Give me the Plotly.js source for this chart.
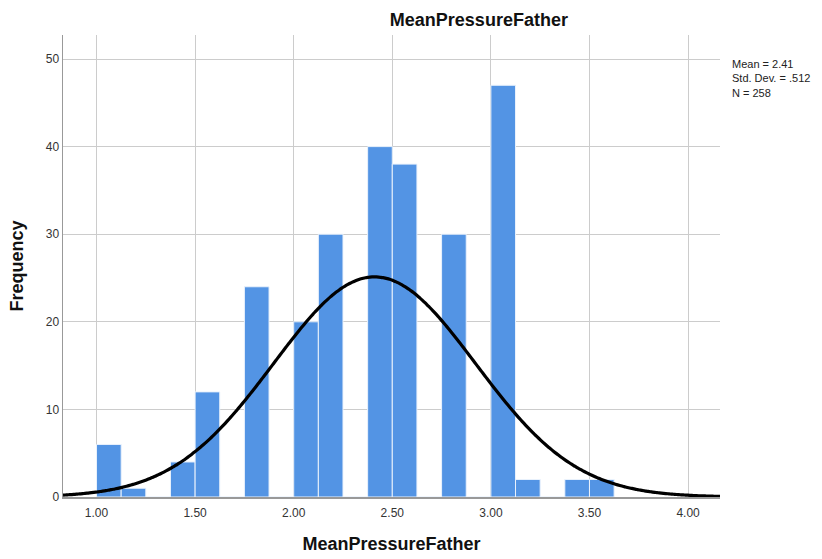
<!DOCTYPE html>
<html>
<head>
<meta charset="utf-8">
<script src="https://cdn.plot.ly/plotly-3.0.1.min.js"></script>
<style>
  html, body { margin: 0; padding: 0; background: #ffffff; }
  #chart { width: 822px; height: 559px; }
</style>
</head>
<body>
<div id="chart"></div>
<script>
// Histogram of MeanPressureFather, bins of width 0.125 starting at 1.00
const binStarts = [1.000, 1.125, 1.250, 1.375, 1.500, 1.625, 1.750, 1.875, 2.000, 2.125,
                   2.250, 2.375, 2.500, 2.625, 2.750, 2.875, 3.000, 3.125, 3.250, 3.375, 3.500];
const frequencies = [6, 1, 0, 4, 12, 0, 24, 0, 20, 30,
                     0, 40, 38, 0, 30, 0, 47, 2, 0, 2, 2];
const binWidth = 0.125;

// Summary statistics shown beside the plot
const statMean = 2.41;
const statSD = 0.512;
const statN = 258;

const xTickVals = [1.0, 1.5, 2.0, 2.5, 3.0, 3.5, 4.0];
const yTickVals = [0, 10, 20, 30, 40, 50];

const binCenters = binStarts.map(s => s + binWidth / 2);

// Normal curve scaled to counts: N * binWidth * pdf(x)
const curveX = [];
const curveY = [];
const xMin = 0.83, xMax = 4.165;
const steps = 300;
for (let i = 0; i <= steps; i++) {
  const x = xMin + (xMax - xMin) * i / steps;
  const z = (x - statMean) / statSD;
  const pdf = Math.exp(-0.5 * z * z) / (statSD * Math.sqrt(2 * Math.PI));
  curveX.push(x);
  curveY.push(statN * binWidth * pdf);
}

const bars = {
  type: 'bar',
  x: binCenters,
  y: frequencies,
  width: binWidth,
  marker: { color: '#5394E4', line: { color: '#EAF2FC', width: 1 } },
  hoverinfo: 'x+y',
  showlegend: false
};

const curve = {
  type: 'scatter',
  mode: 'lines',
  x: curveX,
  y: curveY,
  line: { color: '#000000', width: 3.2, shape: 'spline' },
  hoverinfo: 'skip',
  showlegend: false
};

const layout = {
  width: 822,
  height: 559,
  margin: { l: 63, r: 102, t: 35, b: 62 },
  paper_bgcolor: '#ffffff',
  plot_bgcolor: '#ffffff',
  font: { family: 'Liberation Sans, Arial, sans-serif', color: '#333333', size: 12 },
  bargap: 0,
  title: {
    text: '<b>MeanPressureFather</b>',
    font: { size: 18, color: '#111111', family: 'Liberation Sans, Arial, sans-serif' },
    x: 0.633, xref: 'paper', xanchor: 'center',
    y: 0.964, yref: 'container', yanchor: 'middle'
  },
  xaxis: {
    range: [0.83, 4.162],
    tickvals: xTickVals,
    tickformat: '.2f',
    showgrid: true,
    gridcolor: '#CCCCCC',
    gridwidth: 1,
    zeroline: false,
    showline: true,
    linecolor: '#999999',
    linewidth: 1.5,
    ticks: '',
    ticklabelstandoff: 4,
    tickfont: { size: 12, color: '#333333' },
    title: {
      text: '<b>MeanPressureFather</b>',
      font: { size: 18, color: '#111111' },
      standoff: 18
    }
  },
  yaxis: {
    range: [0, 52.74],
    tickvals: yTickVals,
    showgrid: true,
    gridcolor: '#CCCCCC',
    gridwidth: 1,
    zeroline: false,
    showline: true,
    linecolor: '#999999',
    linewidth: 1.5,
    ticks: '',
    tickfont: { size: 12, color: '#333333' },
    title: {
      text: '<b>Frequency</b>',
      font: { size: 18, color: '#111111' },
      standoff: 17
    }
  },
  annotations: [{
    xref: 'paper', yref: 'paper',
    x: 1.015, y: 0.955,
    xanchor: 'left', yanchor: 'top',
    align: 'left',
    showarrow: false,
    text: 'Mean = ' + statMean.toFixed(2) + '<br>Std. Dev. = ' + statSD.toFixed(3).replace(/^0/, '') + '<br>N = ' + statN,
    font: { size: 11, color: '#222222' }
  }]
};

Plotly.newPlot('chart', [bars, curve], layout, { displayModeBar: false, staticPlot: true });
</script>
</body>
</html>
